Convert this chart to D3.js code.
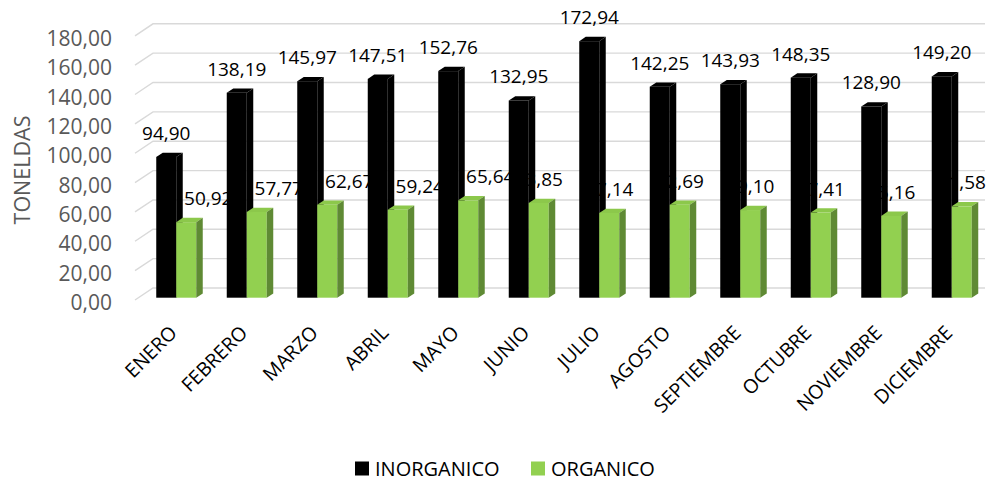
<!DOCTYPE html>
<html>
<head>
<meta charset="utf-8">
<script src="https://cdn.jsdelivr.net/npm/d3@7"></script>
<style>
	body { margin: 0; background: #fff; }
	text { font-family: "Open Sans", "Noto Sans", sans-serif; }
</style>
</head>
<body>
<svg id="chart"></svg>
<script>
// month names on the x axis
let months = ['ENERO', 'FEBRERO', 'MARZO', 'ABRIL', 'MAYO', 'JUNIO',
	'JULIO', 'AGOSTO', 'SEPTIEMBRE', 'OCTUBRE', 'NOVIEMBRE', 'DICIEMBRE'];

// toneladas por mes
let inorganico = [94.90, 138.19, 145.97, 147.51, 152.76, 132.95, 172.94, 142.25, 143.93, 148.35, 128.90, 149.20];
let organico = [50.92, 57.77, 62.67, 59.24, 65.64, 63.85, 57.14, 62.69, 59.10, 57.41, 55.16, 61.58];

let seriesNames = ['INORGANICO', 'ORGANICO'];
let yTicks = [0, 20, 40, 60, 80, 100, 120, 140, 160, 180];

// in the original the first few organic labels were nudged to the right
let nudgedLabels = ['ENERO', 'FEBRERO', 'MARZO', 'ABRIL', 'MAYO'];

let W = 992, H = 481;
let depth = { dx: 6.5, dy: 4.3 };   // fake 3d offset of the bar tops / sides
let wall = { dx: 18, dy: 12 };      // left wall diagonal
let barW = 20;

let green = { front: '#92D050', top: '#8CC84B', side: '#5F8A34' };

const svg = d3.select('#chart')
	.attr('width', W)
	.attr('height', H);

const loc = d3.formatLocale({ decimal: ',', thousands: '.', grouping: [3], currency: ['', ''] });
const fmt = loc.format('.2f');

const x = d3.scaleBand()
	.domain(months)
	.range([141, 987]);

// front faces of the bars
const y = d3.scaleLinear()
	.domain([0, 180])
	.range([297.7, 30.7]);

// back wall gridlines
const yWall = d3.scaleLinear()
	.domain([0, 180])
	.range([288, 23.8]);

function cx(m) { return x(m) + x.bandwidth() / 2; }

// gridlines on the back wall, with the little diagonal on the left
let grid = svg.append('g');
yTicks.forEach(v => {
	let yy = yWall(v);
	grid.append('path')
		.attr('d', 'M' + (153 - wall.dx) + ',' + (yy + wall.dy) + ' L153,' + yy + ' L985,' + yy)
		.attr('fill', 'none')
		.attr('stroke', '#D9D9D9')
		.attr('stroke-width', 1.4);
});

// y tick labels
svg.append('g').selectAll('text')
	.data(yTicks)
	.enter()
	.append('text')
	.attr('x', 112)
	.attr('y', d => yWall(d) + 14)
	.attr('text-anchor', 'end')
	.attr('dominant-baseline', 'central')
	.attr('font-size', 21)
	.attr('fill', '#595959')
	.text(d => fmt(d));

svg.append('text')
	.attr('transform', 'translate(21,170) rotate(-90)')
	.attr('text-anchor', 'middle')
	.attr('dominant-baseline', 'central')
	.attr('font-size', 21.5)
	.attr('fill', '#595959')
	.text('TONELDAS');

// organic labels go first so the black columns cover parts of them (as in the original)
svg.append('g').selectAll('text')
	.data(months)
	.enter()
	.append('text')
	.attr('x', (d) => cx(d) + barW / 2 + (nudgedLabels.includes(d) ? 22 : 0))
	.attr('y', (d, i) => y(organico[i]) - 17)
	.attr('text-anchor', 'middle')
	.attr('font-size', 19)
	.attr('fill', '#000')
	.text((d, i) => fmt(organico[i]));

function drawBar(g, x0, v, col) {
	let yt = y(v), yb = y(0);
	g.append('rect')
		.attr('x', x0).attr('y', yt)
		.attr('width', barW).attr('height', yb - yt)
		.attr('fill', col.front);
	g.append('polygon')
		.attr('points', [[x0, yt], [x0 + barW, yt], [x0 + barW + depth.dx, yt - depth.dy], [x0 + depth.dx, yt - depth.dy]].join(' '))
		.attr('fill', col.top);
	g.append('polygon')
		.attr('points', [[x0 + barW, yt], [x0 + barW + depth.dx, yt - depth.dy], [x0 + barW + depth.dx, yb - depth.dy], [x0 + barW, yb]].join(' '))
		.attr('fill', col.side);
}

let bars = svg.append('g');
months.forEach((m, i) => {
	let g = bars.append('g');
	drawBar(g, cx(m) - barW, inorganico[i], { front: '#000', top: '#000', side: '#000' });
	drawBar(g, cx(m), organico[i], green);
});

// inorganic labels on top
svg.append('g').selectAll('text')
	.data(months)
	.enter()
	.append('text')
	.attr('x', d => cx(d) - barW / 2)
	.attr('y', (d, i) => y(inorganico[i]) - 17)
	.attr('text-anchor', 'middle')
	.attr('font-size', 19)
	.attr('fill', '#000')
	.text((d, i) => fmt(inorganico[i]));

// month labels, slanted
svg.append('g').selectAll('text')
	.data(months)
	.enter()
	.append('text')
	.attr('transform', d => 'translate(' + (cx(d) + 2) + ',334) rotate(-45)')
	.attr('text-anchor', 'end')
	.attr('font-size', 19.5)
	.attr('fill', '#000')
	.text(d => d);

// legend
let legend = svg.append('g');
let legendX = [355, 531];
let legendCol = ['#000', green.front];
seriesNames.forEach((s, i) => {
	legend.append('rect')
		.attr('x', legendX[i]).attr('y', 461.5)
		.attr('width', 14).attr('height', 14)
		.attr('fill', legendCol[i]);
	legend.append('text')
		.attr('x', legendX[i] + 20)
		.attr('y', 468.5)
		.attr('dominant-baseline', 'central')
		.attr('font-size', 20)
		.attr('fill', '#000')
		.text(s);
});
</script>
</body>
</html>
